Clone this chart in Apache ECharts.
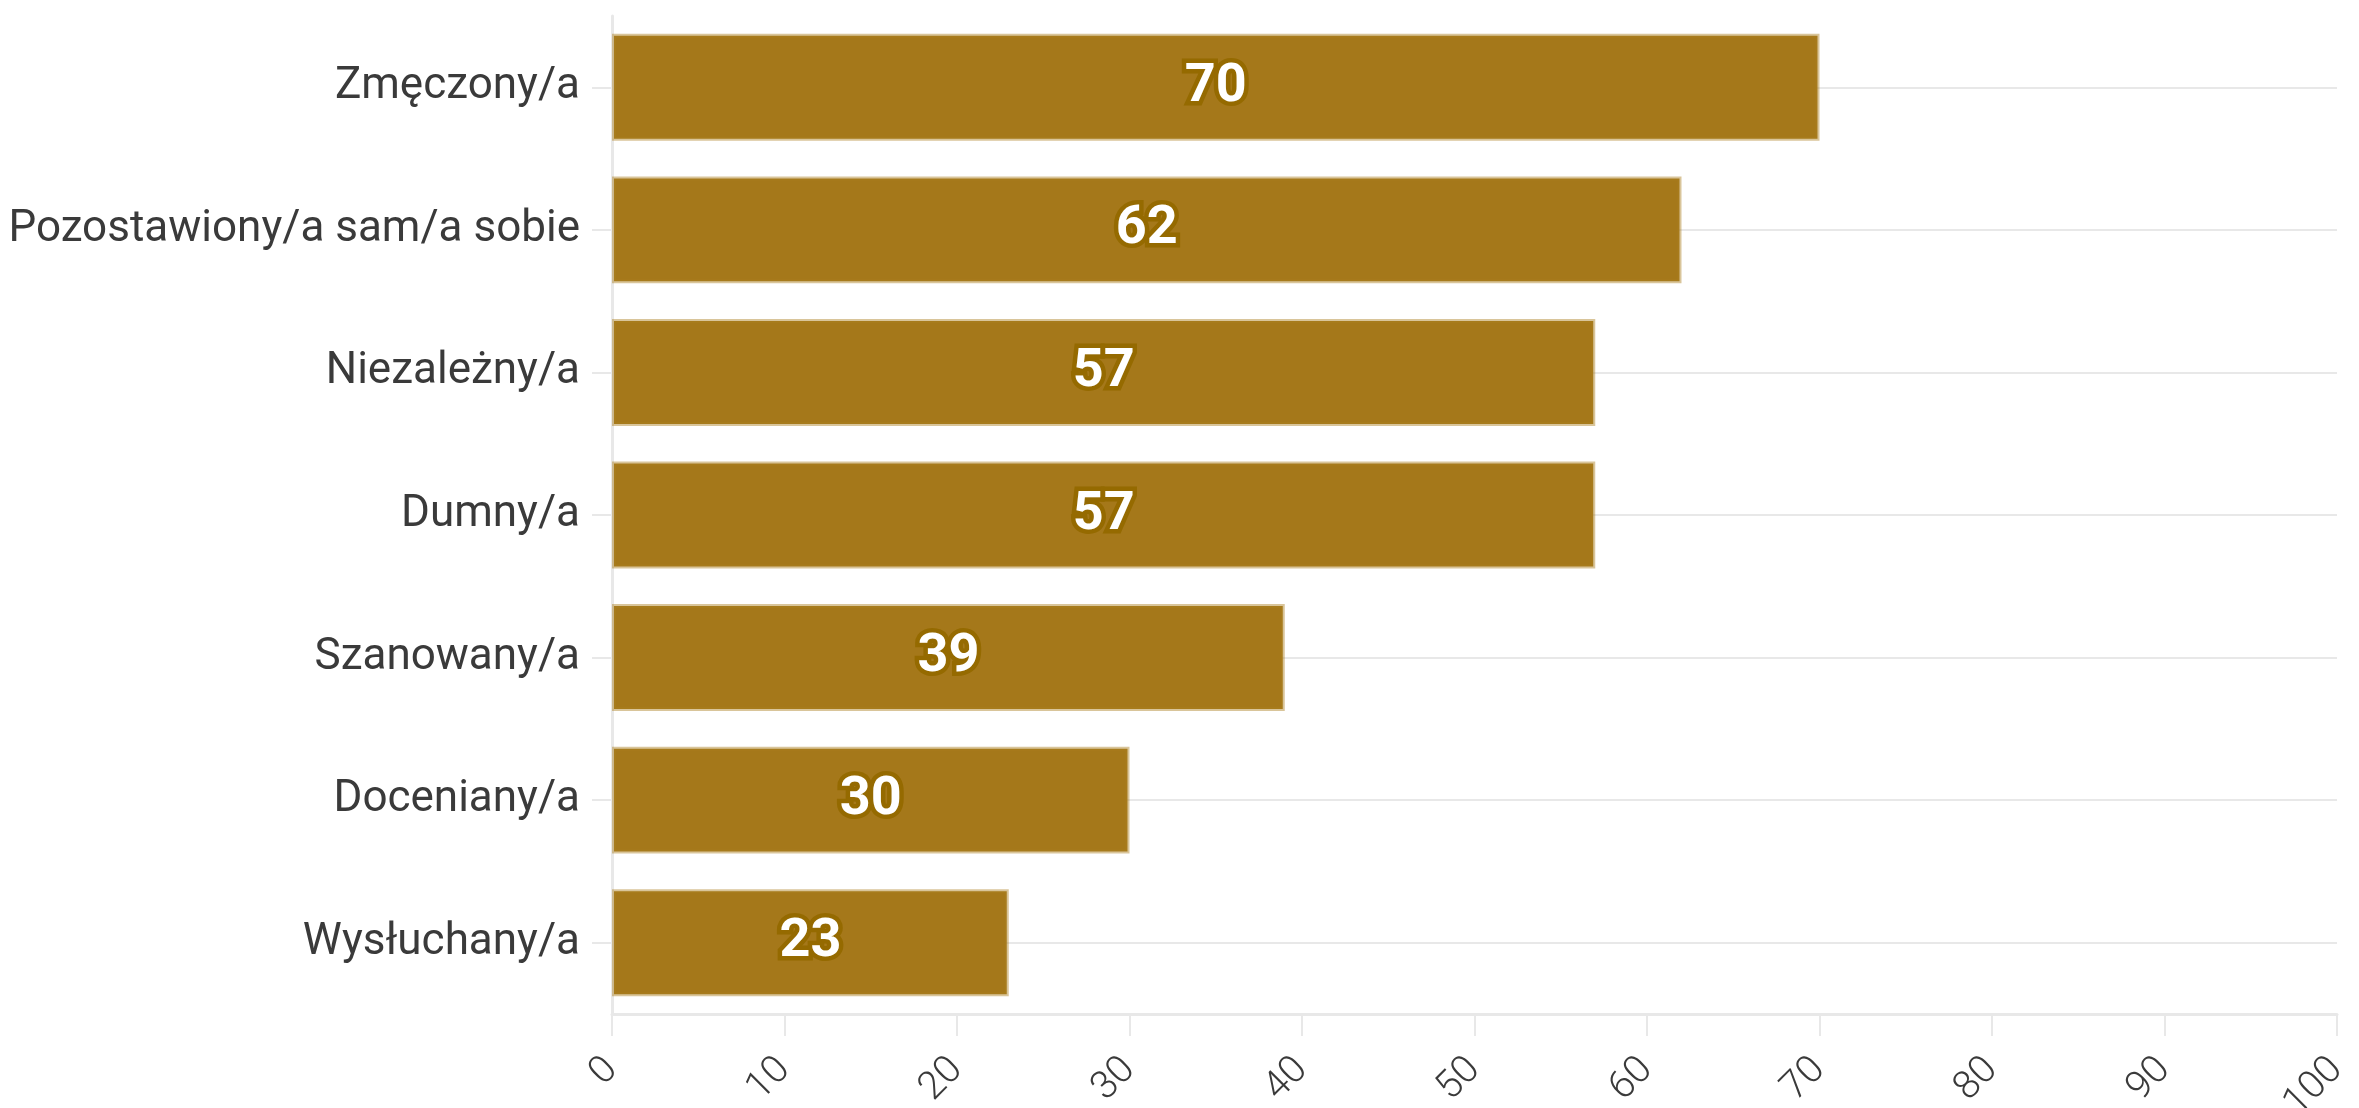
<!DOCTYPE html>
<html>
<head>
<meta charset="utf-8">
<script src="https://cdn.jsdelivr.net/npm/echarts@6/dist/echarts.min.js"></script>
<style>
  html, body { margin: 0; padding: 0; background: #ffffff; }
  #chart { width: 2359px; height: 1108px; }
</style>
</head>
<body>
<div id="chart"></div>
<script>
// Odpowiedzi (%), od najczęstszej
const categories = [
  'Zmęczony/a',
  'Pozostawiony/a sam/a sobie',
  'Niezależny/a',
  'Dumny/a',
  'Szanowany/a',
  'Doceniany/a',
  'Wysłuchany/a'
];
const values = [70, 62, 57, 57, 39, 30, 23];
const axisMin = 0;
const axisMax = 100;
const axisStep = 10;

const BAR = '#a5781a';
const GRID = '#e8e8e8';

const chart = echarts.init(document.getElementById('chart'), null, { renderer: 'canvas' });

chart.setOption({
  backgroundColor: '#ffffff',
  animation: false,
  grid: { left: 612, right: 22, top: 16, bottom: 94, containLabel: false, outerBoundsMode: 'none' },
  xAxis: {
    type: 'value',
    min: axisMin,
    max: axisMax,
    interval: axisStep,
    axisLine: { show: true, lineStyle: { color: GRID, width: 3 } },
    axisTick: { show: true, length: 22, lineStyle: { color: GRID, width: 2 } },
    splitLine: { show: false },
    axisLabel: {
      rotate: 45,
      margin: 50,
      fontFamily: 'Roboto',
      fontWeight: 300,
      fontSize: 39,
      color: '#3a3a3a'
    }
  },
  yAxis: {
    type: 'category',
    data: categories,
    inverse: true,
    axisLine: { show: true, lineStyle: { color: GRID, width: 3 } },
    axisTick: { show: true, alignWithLabel: true, length: 20, lineStyle: { color: GRID, width: 2 } },
    splitLine: { show: false },
    axisLabel: {
      margin: 32,
      fontFamily: 'Roboto',
      fontSize: 44,
      color: '#3a3a3a'
    }
  },
  series: [
    {
      // poziome linie pomocnicze na wysokości każdej kategorii
      type: 'line',
      data: [],
      z: 1,
      silent: true,
      markLine: {
        z: 1,
        silent: true,
        symbol: ['none', 'none'],
        label: { show: false },
        lineStyle: { color: GRID, width: 2, type: 'solid' },
        data: categories.map(c => ({ yAxis: c }))
      }
    },
    {
      type: 'bar',
      data: values,
      z: 3,
      barCategoryGap: '25%',
      itemStyle: {
        color: BAR,
        borderColor: 'rgba(170,126,30,0.45)',
        borderWidth: 4
      },
      label: {
        show: true,
        position: 'inside',
        fontFamily: 'Roboto',
        fontWeight: 'bold',
        fontSize: 54,
        color: '#ffffff',
        textBorderColor: '#956a00',
        textBorderWidth: 9
      }
    }
  ]
});
</script>
</body>
</html>
